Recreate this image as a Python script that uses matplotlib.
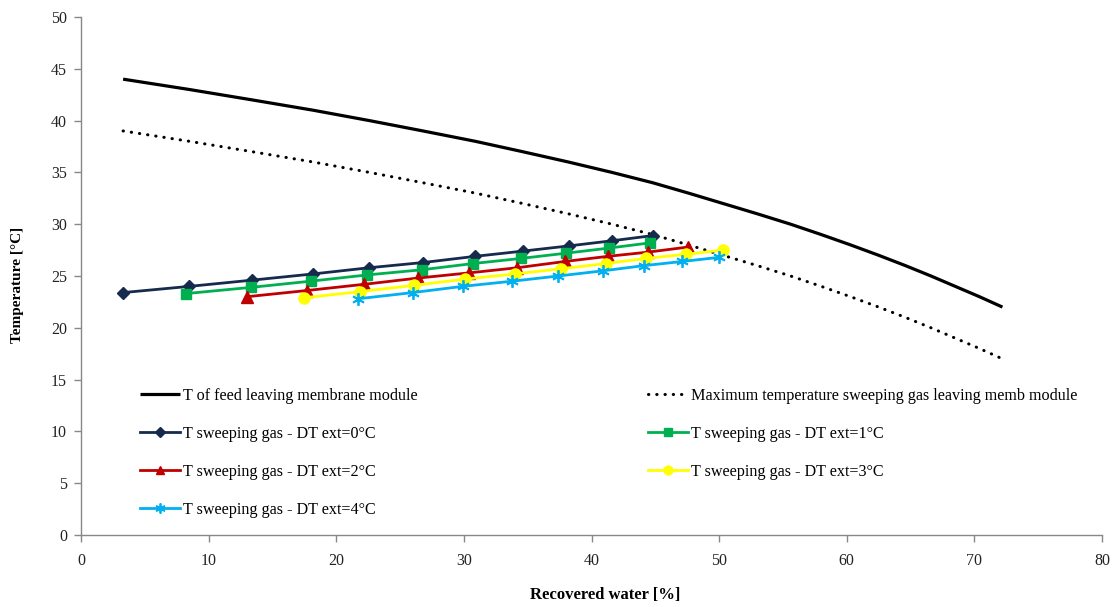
import matplotlib
matplotlib.use("Agg")
import matplotlib.pyplot as plt

plt.rcParams['font.family'] = ['Liberation Serif', 'DejaVu Serif']

# Feed line (T of feed leaving membrane module) and max sweeping gas line
feed_x = [3.3, 8.5, 13.4, 18.2, 22.6, 26.8, 30.9, 34.6, 38.2, 41.6, 44.8, 47.6, 50.3,
          53.0, 55.6, 58.0, 60.3, 62.5, 64.6, 66.6, 68.5, 70.4, 72.2]
feed_T = [44, 43, 42, 41, 40, 39, 38, 37, 36, 35, 34, 33, 32,
          31, 30, 29, 28, 27, 26, 25, 24, 23, 22]
max_T = [39, 38, 37, 36, 35, 34, 33, 32, 31, 30, 29, 28, 27,
         26, 25, 24, 23, 22, 21, 20, 19, 18, 17]

dt0_x = [3.3, 8.5, 13.4, 18.2, 22.6, 26.8, 30.9, 34.6, 38.2, 41.6, 44.8]
dt0_y = [23.4, 24.0, 24.6, 25.2, 25.8, 26.3, 26.9, 27.4, 27.9, 28.4, 28.9]

dt1_x = [8.2, 13.3, 18.0, 22.4, 26.7, 30.7, 34.5, 38.0, 41.4, 44.6]
dt1_y = [23.3, 23.9, 24.5, 25.1, 25.6, 26.2, 26.7, 27.2, 27.7, 28.2]

dt2_x = [13.0, 17.7, 22.2, 26.4, 30.4, 34.2, 37.9, 41.3, 44.4, 47.6]
dt2_y = [23.0, 23.6, 24.2, 24.8, 25.3, 25.8, 26.4, 26.9, 27.3, 27.8]

dt3_x = [17.5, 21.9, 26.1, 30.1, 34.0, 37.6, 41.1, 44.3, 47.4, 50.3]
dt3_y = [22.9, 23.5, 24.1, 24.7, 25.2, 25.7, 26.2, 26.7, 27.1, 27.5]

dt4_x = [21.7, 26.0, 29.9, 33.8, 37.4, 40.9, 44.1, 47.1, 50.0]
dt4_y = [22.8, 23.4, 24.0, 24.5, 25.0, 25.5, 26.0, 26.4, 26.8]

labels = ["T of feed leaving membrane module",
          "Maximum temperature sweeping gas leaving memb module",
          "T sweeping gas - DT ext=0°C",
          "T sweeping gas - DT ext=1°C",
          "T sweeping gas - DT ext=2°C",
          "T sweeping gas - DT ext=3°C",
          "T sweeping gas - DT ext=4°C"]

fig = plt.figure(figsize=(11.16, 6.07), dpi=100)
ax = fig.add_axes([81/1116, 1-535/607, (1102-81)/1116, (535-17)/607])

h_feed, = ax.plot(feed_x, feed_T, color='black', lw=2.3, solid_capstyle='butt')
h_max, = ax.plot(feed_x, max_T, color='black', lw=2.2,
                 linestyle=(0, (0.1, 2.6)), dash_capstyle='round')

lw = 2.0
h0, = ax.plot(dt0_x, dt0_y, color='#152A4C', lw=lw, marker='D', ms=6.5)
h1, = ax.plot(dt1_x, dt1_y, color='#00B050', lw=lw, marker='s', ms=7)
h2, = ax.plot(dt2_x, dt2_y, color='#C00000', lw=lw, marker='^', ms=8)
h3, = ax.plot(dt3_x, dt3_y, color='#FFFF00', lw=lw, marker='o', ms=8)
h4, = ax.plot(dt4_x, dt4_y, color='#00B0F0', lw=lw, marker=(6, 2, 0), ms=9,
              markeredgewidth=1.3)

ax.set_xlim(0, 80)
ax.set_ylim(0, 50)
ax.set_xticks(range(0, 81, 10))
ax.set_yticks(range(0, 51, 5))
for s in ['top', 'right']:
    ax.spines[s].set_visible(False)
for s in ['left', 'bottom']:
    ax.spines[s].set_color('#888888')
    ax.spines[s].set_linewidth(1.0)
ax.tick_params(axis='both', direction='out', length=5, width=1.0, color='#888888',
               labelsize=11.5, labelcolor='#222222')
ax.tick_params(axis='x', pad=8)
ax.tick_params(axis='y', pad=5)

fig.text(605/1116, 1-595/607, "Recovered water [%]", ha='center', va='center',
         fontsize=12, fontweight='bold')
fig.text(18/1116, 1-285/607, "Temperature [°C]", ha='center', va='center',
         fontsize=11, fontweight='bold', rotation=90)

leg_kw = dict(frameon=False, fontsize=11.6, handlelength=2.5, handletextpad=0.15,
              labelspacing=1.36, loc='upper left', borderaxespad=0, borderpad=0,
              markerscale=0.8)
leg1 = ax.legend([h_feed, h0, h2, h4], [labels[0], labels[2], labels[4], labels[6]],
                 bbox_to_anchor=((140-81)/1021, (535-388)/518), **leg_kw)
ax.add_artist(leg1)
leg2 = ax.legend([h_max, h1, h3], [labels[1], labels[3], labels[5]],
                 bbox_to_anchor=((648-81)/1021, (535-388)/518), **leg_kw)

fig.savefig("out.png", dpi=100)
